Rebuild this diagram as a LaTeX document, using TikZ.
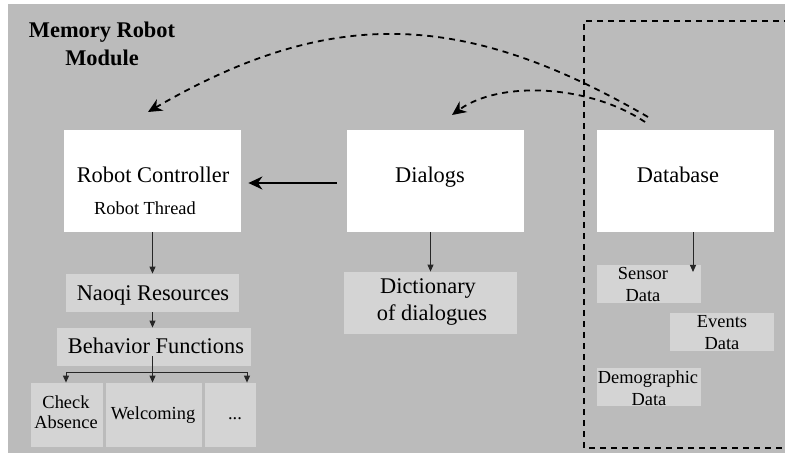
\documentclass[tikz,border=0pt]{standalone}
\usepackage{fontspec}
\setmainfont{Liberation Serif}
\usetikzlibrary{arrows.meta}
\definecolor{panelgray}{RGB}{187,187,187}
\definecolor{boxgray}{RGB}{212,212,212}
\begin{document}
\begin{tikzpicture}[x=0.5pt,y=-0.5pt,
  big/.style={anchor=base,inner sep=0pt,font=\fontsize{11.2}{13}\selectfont},
  small/.style={anchor=base,inner sep=0pt,font=\fontsize{9.2}{11}\selectfont},
  titletext/.style={anchor=base,inner sep=0pt,font=\fontsize{11.2}{13}\selectfont\bfseries},
  whitebox/.style={rectangle,fill=white,draw=none,inner sep=0pt},
  greybox/.style={rectangle,fill=boxgray,draw=none,inner sep=0pt},
  plainline/.style={draw=black!85,line width=0.5pt},
  link/.style={plainline,-{Triangle[length=3.5pt,width=3pt]}},
  biglink/.style={draw=black,line width=1pt,-{Stealth[length=7pt,width=6.5pt]}},
  dashlink/.style={draw=black,line width=0.9pt,dash pattern=on 3pt off 2.5pt,-{Stealth[length=7pt,width=6.5pt]}},
  dashframe/.style={draw=black,line width=1pt,dash pattern=on 3pt off 2.5pt}
]
\useasboundingbox (0,0) rectangle (785,453);
% panel background
\fill[panelgray] (8,4) rectangle (785,453);

% database frame, open towards the right edge
\draw[dashframe] (790,21) -- (584,21) -- (584,448) -- (790,448);

% title
\node[titletext] (title1) at (102,38) {Memory Robot};
\node[titletext] (title2) at (102,66) {Module};

% main components
\node[whitebox,minimum width=88.5pt,minimum height=51pt] (rc) at (152.5,181) {};
\node[whitebox,minimum width=88.5pt,minimum height=51pt] (dlg) at (435.5,181) {};
\node[whitebox,minimum width=88.5pt,minimum height=51pt] (db) at (685.5,181) {};
\node[big] (rcT) at (153,183) {Robot Controller};
\node[small] (rcS) at (145,215) {Robot Thread};
\node[big] (dlgT) at (430,183) {Dialogs};
\node[big] (dbT) at (678,183) {Database};

% robot controller parts
\node[greybox,minimum width=86.5pt,minimum height=19pt] (naoqi) at (152.5,293) {};
\node[big] (naoqiT) at (153,301) {Naoqi Resources};
\node[greybox,minimum width=97pt,minimum height=19pt] (beh) at (154,347) {};
\node[big] (behT) at (156,353) {Behavior Functions};
\node[greybox,minimum width=36pt,minimum height=32pt] (chk) at (67,415) {};
\node[small] (chkA) at (66,408) {Check};
\node[small] (chkB) at (66,428) {Absence};
\node[greybox,minimum width=48pt,minimum height=32pt] (wel) at (154,415) {};
\node[small] (welT) at (153,419) {Welcoming};
\node[greybox,minimum width=25.5pt,minimum height=32pt] (dots) at (230.5,415) {};
\node[small] (dotsT) at (235,419) {...};

% dialogs part
\node[greybox,minimum width=86.5pt,minimum height=31pt] (dict) at (430.5,303) {};
\node[big] (dictA) at (428,294) {Dictionary};
\node[big] (dictB) at (432,321) {of dialogues};

% database parts
\node[greybox,minimum width=52pt,minimum height=19pt] (sen) at (649,284) {};
\node[small] (senA) at (643,280) {Sensor};
\node[small] (senB) at (643,302) {Data};
\node[greybox,minimum width=52pt,minimum height=19pt] (evt) at (722,332) {};
\node[small] (evtA) at (722,328) {Events};
\node[small] (evtB) at (722,350) {Data};
\node[greybox,minimum width=52pt,minimum height=19pt] (dem) at (649,387) {};
\node[small] (demA) at (648,383) {Demographic};
\node[small] (demB) at (649,405) {Data};

% solid connectors
\draw[biglink] ([xshift=-5pt,yshift=-1pt]dlg.west) -- ([xshift=3.5pt,yshift=-1pt]rc.east);
\draw[link] (rc.south) -- (naoqi.north);
\draw[link] (naoqi.south) -- (naoqi.south |- beh.north);
\coordinate (forkL) at (66,372);
\coordinate (forkR) at (247,372);
\draw[plainline] (forkL) -- (forkR);
\draw[link] ([yshift=5pt]beh.south -| naoqi.south) -- (naoqi.south |- wel.north);
\draw[link] (forkL) -- (forkL |- chk.north);
\draw[link] (forkR) -- (forkR |- dots.north);
\draw[link] (dict.north |- dlg.south) -- (dict.north);
\coordinate (dbtip) at (693,272);
\draw[link] (dbtip |- db.south) -- (dbtip);

% dashed feedback links from the database
\coordinate (dbA) at (648,117);
\coordinate (rcA) at (148,112);
\coordinate (dbB) at (645,122);
\coordinate (dlgA) at (452,115);
\draw[dashlink] (dbA) .. controls (468,13) and (335,3) .. (rcA);
\draw[dashlink] (dbB) .. controls (590,85) and (500,80) .. (dlgA);
\end{tikzpicture}
\end{document}
